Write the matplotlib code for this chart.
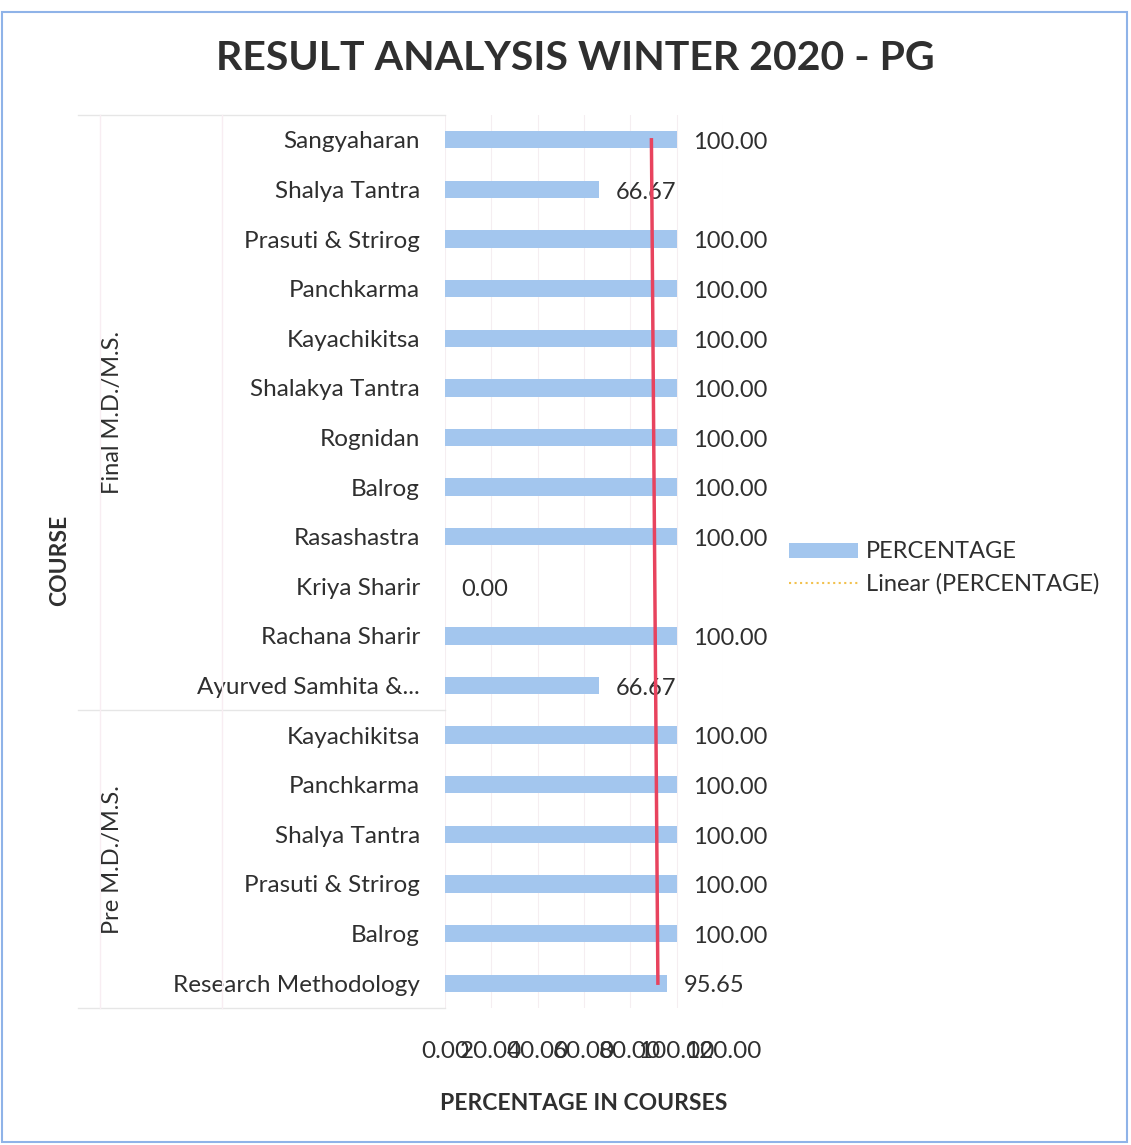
import numpy as np
import matplotlib
matplotlib.use("Agg")
import matplotlib.pyplot as plt
from matplotlib.patches import Patch, Rectangle
from matplotlib.lines import Line2D
import matplotlib.transforms as mtransforms

plt.rcParams['font.family'] = ['Lato', 'DejaVu Sans']

title = "RESULT ANALYSIS WINTER 2020 - PG"
courses = ["Sangyaharan", "Shalya Tantra", "Prasuti & Strirog", "Panchkarma",
           "Kayachikitsa", "Shalakya Tantra", "Rognidan", "Balrog", "Rasashastra",
           "Kriya Sharir", "Rachana Sharir", "Ayurved Samhita &...",
           "Kayachikitsa", "Panchkarma", "Shalya Tantra", "Prasuti & Strirog",
           "Balrog", "Research Methodology"]
percentages = [100.00, 66.67, 100.00, 100.00, 100.00, 100.00, 100.00, 100.00, 100.00,
               0.00, 100.00, 66.67, 100.00, 100.00, 100.00, 100.00, 100.00, 95.65]
groups = ["Final M.D./M.S.", "Pre M.D./M.S."]
group_sizes = [12, 6]
xticks = [0, 20, 40, 60, 80, 100, 120]

text_color = "#2f2f2f"
bar_color = "#a3c6ee"

fig = plt.figure(figsize=(11.31, 11.45), dpi=100)
W, H = 1131, 1145
ax = fig.add_axes([445 / W, 1 - 1008 / H, 278 / W, (1008 - 115) / H])

y = np.arange(len(courses))
ax.barh(y, percentages, height=0.35, color=bar_color, zorder=2)
ax.set_xlim(0, 120)
ax.set_ylim(len(courses) - 0.5, -0.5)
ax.set_yticks(y)
ax.set_yticklabels(courses, fontsize=17.5, color=text_color)
ax.set_xticks(xticks)
ax.set_xticklabels([f"{v:.2f}" for v in xticks], fontsize=17.5, color=text_color)
ax.tick_params(axis='y', length=0, pad=18)
ax.tick_params(axis='x', length=0, pad=24)
for s in ax.spines.values():
    s.set_visible(False)
ax.grid(axis='x', color="#f5eef1", lw=0.8, zorder=0)

# data labels
for yi, v in zip(y, percentages):
    ax.annotate(f"{v:.2f}", (v, yi), xytext=(12, -2), textcoords='offset points',
                va='center', ha='left', fontsize=17, color=text_color)

# linear trendline
coef = np.polyfit(y, percentages, 1)
trend = np.polyval(coef, y)
ax.plot(trend, y, color="#e8435e", lw=2.5, zorder=3)

# multi-level category axis
trans = mtransforms.blended_transform_factory(fig.transFigure, ax.transData)
start = 0
for g, n in zip(groups, group_sizes):
    center = start + (n - 1) / 2
    ax.text(112 / W, center, g, transform=trans, rotation=90, va='center', ha='center',
            fontsize=17, color=text_color)
    start += n
bounds = [-0.5]
acc = -0.5
for n in group_sizes:
    acc += n
    bounds.append(acc)
for b in bounds:
    ax.plot([78 / W, 445 / W], [b, b], transform=trans, color="#e6e6e6", lw=1,
            clip_on=False)
for xv in [100 / W, 222 / W]:
    ax.plot([xv, xv], [bounds[0], bounds[-1]], transform=trans, color="#f8edf2", lw=1,
            clip_on=False)

ax.set_xlabel("PERCENTAGE IN COURSES", fontsize=16.5, fontweight='bold', color=text_color,
              labelpad=22)
fig.text(60 / W, 1 - 560 / H, "COURSE", rotation=90, va='center', ha='center',
         fontsize=16.5, fontweight='bold', color=text_color)

fig.text(575 / W, 1 - 58 / H, title, ha='center', va='center', fontsize=29.5,
         fontweight='bold', color=text_color)

handles = [Patch(facecolor=bar_color, edgecolor='none'),
           Line2D([0], [0], color="#f2c14e", ls=':', lw=1.5)]
fig.legend(handles, ["PERCENTAGE", "Linear (PERCENTAGE)"], loc='center left',
           bbox_to_anchor=(768 / W, 1 - 568 / H), frameon=False, fontsize=17,
           labelcolor=text_color, handlelength=2.9, handleheight=0.6, handletextpad=0.35,
           labelspacing=0.45)

fig.add_artist(Rectangle((2 / W, 3 / H), 1125 / W, 1 - 15 / H, transform=fig.transFigure,
                         fill=False, edgecolor="#8fb3e8", lw=1.5))

fig.savefig("out.png", dpi=100)
